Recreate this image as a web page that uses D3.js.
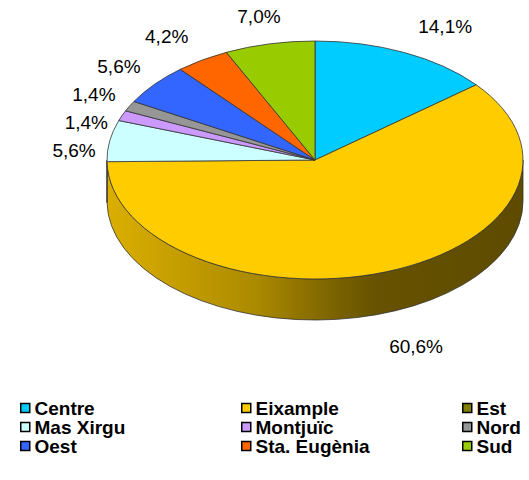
<!DOCTYPE html>
<html>
<head>
<meta charset="utf-8">
<script src="https://cdn.jsdelivr.net/npm/d3@7"></script>
<style>
  body { margin: 0; background: #fff; }
  text { font-family: "Liberation Sans", Arial, sans-serif; }
</style>
</head>
<body>
<div id="chart-area"></div>
<script>
var categories = ["Centre", "Eixample", "Est", "Mas Xirgu", "Montjuïc", "Nord", "Oest", "Sta. Eugènia", "Sud"];
var values = [14.1, 60.6, 0, 5.6, 1.4, 1.4, 5.6, 4.2, 7.0];
var colors = ["#00ccff", "#ffcc00", "#808000", "#ccffff", "#cc99ff", "#969696", "#3366ff", "#ff6600", "#99cc00"];

var width = 529, height = 480;
var cx = 315, cy = 160, rx = 208, ry = 119, depth = 41;

var svg = d3.select("#chart-area").append("svg")
	.attr("width", width)
	.attr("height", height);

var defs = svg.append("defs");

var arcs = d3.pie().value(function(d){ return d; }).sort(null)(values);

function pt(a, dy) {
	return [cx + rx * Math.sin(a), cy - ry * Math.cos(a) + (dy || 0)];
}

function topPath(d) {
	var p0 = pt(d.startAngle), p1 = pt(d.endAngle);
	var large = (d.endAngle - d.startAngle) > Math.PI ? 1 : 0;
	return "M" + cx + "," + cy + "L" + p0 + "A" + rx + "," + ry + " 0 " + large + " 1 " + p1 + "Z";
}

function sidePath(s0, s1) {
	var p0 = pt(s0), p1 = pt(s1), q0 = pt(s0, depth), q1 = pt(s1, depth);
	return "M" + p0 + "A" + rx + "," + ry + " 0 0 1 " + p1 +
		"L" + q1 + "A" + rx + "," + ry + " 0 0 0 " + q0 + "Z";
}

// shading for the side walls, light on the left, dark on the right
var shade = [[0, 0.86], [0.35, 0.68], [0.55, 0.48], [0.65, 0.40], [1, 0.37]];

arcs.forEach(function(d, i){
	if (d.endAngle - d.startAngle <= 0) return;
	var s0 = Math.max(d.startAngle, Math.PI / 2);
	var s1 = Math.min(d.endAngle, 3 * Math.PI / 2);
	if (s1 <= s0) return;
	var base = d3.rgb(colors[i]);
	var grad = defs.append("linearGradient")
		.attr("id", "side" + i)
		.attr("gradientUnits", "userSpaceOnUse")
		.attr("x1", cx - rx).attr("x2", cx + rx)
		.attr("y1", 0).attr("y2", 0);
	shade.forEach(function(s){
		grad.append("stop")
			.attr("offset", s[0])
			.attr("stop-color", d3.rgb(base.r * s[1], base.g * s[1], base.b * s[1]).toString());
	});
	svg.append("path")
		.attr("d", sidePath(s0, s1))
		.attr("fill", "url(#side" + i + ")")
		.attr("stroke", "#333")
		.attr("stroke-width", 0.8);
});

svg.selectAll("path.slice")
	.data(arcs.filter(function(d){ return d.endAngle > d.startAngle; }))
	.enter()
	.append("path")
		.attr("class", "slice")
		.attr("d", topPath)
		.attr("fill", function(d){ return colors[d.index]; })
		.attr("stroke", "#333")
		.attr("stroke-width", 0.8);

// percentage labels
var fmt = d3.format(".1f");
var labels = [];
arcs.forEach(function(d, i){
	if (values[i] <= 0) return;
	var m = (d.startAngle + d.endAngle) / 2;
	var t = svg.append("text")
		.attr("font-size", "19px")
		.attr("fill", "#000")
		.attr("text-anchor", "middle")
		.text(fmt(values[i]).replace(".", ",") + "%");
	var w = t.node().getComputedTextLength();
	var s = Math.sin(m), c = Math.cos(m);
	var f = Math.min(1, Math.pow(Math.abs(s) / 0.4, 2));
	var x = cx + rx * s + (s < 0 ? -1 : 1) * (14 + w / 2) * f;
	var y = c >= 0 ? cy - 148 * c : cy + depth - 154 * c;
	labels.push({ t: t, x: x, y: y, s: s });
});

var left = labels.filter(function(l){ return l.s < -0.5; })
	.sort(function(a, b){ return a.y - b.y; });
for (var k = 1; k < left.length; k++) {
	left[k].y = Math.max(left[k].y, left[k - 1].y + 28);
}

labels.forEach(function(l){
	l.t.attr("x", l.x).attr("y", l.y + 7);
});

// legend
var legend = svg.append("g");
categories.forEach(function(name, i){
	var col = i % 3, row = Math.floor(i / 3);
	var gx = 20 + col * 221, gy = 408 + row * 19;
	legend.append("rect")
		.attr("x", gx + 0.75).attr("y", gy - 4.5)
		.attr("width", 9).attr("height", 9)
		.attr("fill", colors[i])
		.attr("stroke", "#000")
		.attr("stroke-width", 1.5);
	legend.append("text")
		.attr("x", gx + 14.5)
		.attr("y", gy + 7)
		.attr("font-size", "19px")
		.attr("font-weight", "bold")
		.text(name);
});
</script>
</body>
</html>
